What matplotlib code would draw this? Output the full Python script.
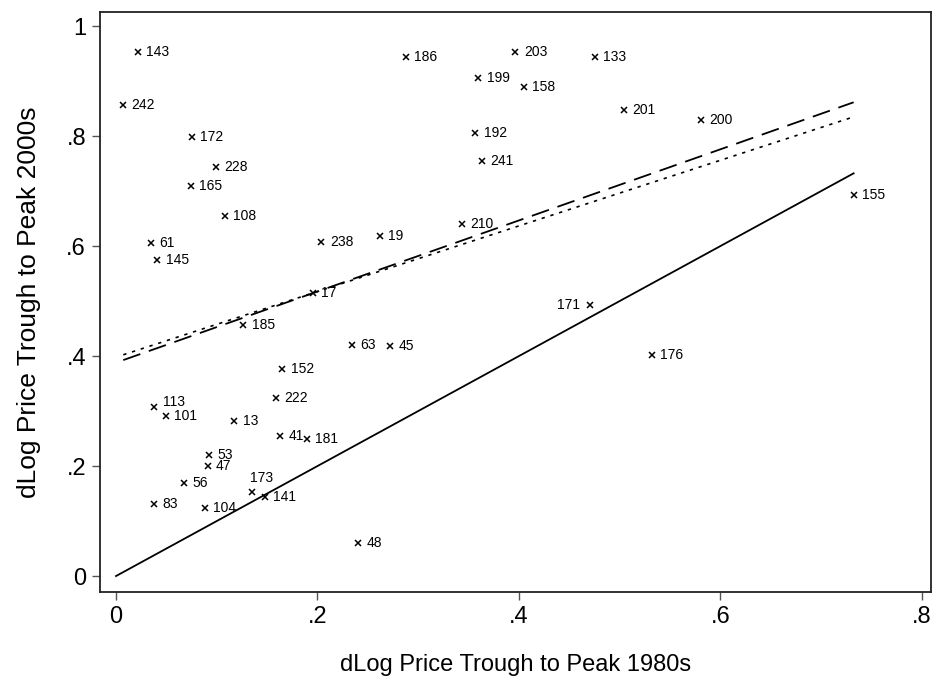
import numpy as np
import matplotlib
matplotlib.use("Agg")
import matplotlib.pyplot as plt

plt.rcParams['font.family'] = ['Liberation Sans', 'DejaVu Sans']

# city ids and price changes (trough to peak)
ids = ["143", "242", "172", "228", "165", "108", "61", "145", "238", "17",
       "19", "186", "203", "133", "199", "158", "201", "200", "192", "241",
       "210", "155", "185", "63", "152", "222", "113", "101", "13", "41",
       "181", "53", "47", "56", "173", "141", "83", "104", "48", "171",
       "45", "176"]
dlog_1980s = [0.0215, 0.0072, 0.0752, 0.0993, 0.0742, 0.1082, 0.0348, 0.0410, 0.2039, 0.1953,
              0.2622, 0.2880, 0.3965, 0.4750, 0.3595, 0.4045, 0.5038, 0.5806, 0.3568, 0.3632,
              0.3433, 0.7322, 0.1264, 0.2341, 0.1651, 0.1586, 0.0380, 0.0497, 0.1175, 0.1629,
              0.1894, 0.0927, 0.0911, 0.0678, 0.1348, 0.1480, 0.0380, 0.0884, 0.2406, 0.4707,
              0.2721, 0.5320]
dlog_2000s = [0.953, 0.856, 0.799, 0.743, 0.710, 0.655, 0.605, 0.575, 0.607, 0.514,
              0.618, 0.944, 0.952, 0.944, 0.906, 0.890, 0.847, 0.829, 0.806, 0.7545,
              0.640, 0.6927, 0.4564, 0.420, 0.3758, 0.323, 0.3067, 0.291, 0.2824, 0.255,
              0.249, 0.2195, 0.2005, 0.1685, 0.1533, 0.1431, 0.1309, 0.123, 0.0605, 0.4927,
              0.418, 0.4018]

# fitted lines (intercept, slope)
fit_dashed = (0.388, 0.6465)
fit_dotted = (0.398, 0.5966)

# label placement exceptions
label_left = ["171"]
label_up = {"113": 5, "173": 14}

x = np.array(dlog_1980s)
y = np.array(dlog_2000s)

fig = plt.figure(figsize=(9.32, 6.77), dpi=100)
ax = fig.add_axes([100 / 932, 85 / 677, 831 / 932, 580 / 677])

xs = np.array([x.min(), x.max()])
ax.plot([0, x.max()], [0, x.max()], color="black", lw=1.3, zorder=2)
ax.plot(xs, fit_dashed[0] + fit_dashed[1] * xs, color="black", lw=1.3,
        dashes=(10, 5), zorder=2)
ax.plot(xs, fit_dotted[0] + fit_dotted[1] * xs, color="black", lw=1.2,
        dashes=(2, 3.5), zorder=2)

ax.plot(x, y, linestyle="none", marker="x", markersize=4.2, mew=1.1,
        color="black", zorder=3)

for name, xi, yi in zip(ids, x, y):
    if name in label_left:
        ax.annotate(name, (xi, yi), xytext=(-7, 0), textcoords="offset points",
                    ha="right", va="center", fontsize=10)
    elif name == "173":
        ax.annotate(name, (xi, yi), xytext=(-1, 5), textcoords="offset points",
                    ha="left", va="bottom", fontsize=10)
    else:
        dy = label_up.get(name, 0)
        ax.annotate(name, (xi, yi), xytext=(6, dy * 0.75), textcoords="offset points",
                    ha="left", va="center", fontsize=10)

ax.set_xlim(-0.0159, 0.809)
ax.set_ylim(-0.029, 1.0255)
ax.set_xticks([0, 0.2, 0.4, 0.6, 0.8])
ax.set_xticklabels(["0", ".2", ".4", ".6", ".8"])
ax.set_yticks([0, 0.2, 0.4, 0.6, 0.8, 1])
ax.set_yticklabels(["0", ".2", ".4", ".6", ".8", "1"])
ax.tick_params(axis="both", direction="out", length=6, width=1, color="#555555",
               labelsize=17, pad=4)

for s in ax.spines.values():
    s.set_linewidth(1.3)
    s.set_color("#222222")

ax.set_xlabel("dLog Price Trough to Peak 1980s", fontsize=17, labelpad=19)
ax.set_ylabel("dLog Price Trough to Peak 2000s", fontsize=19, labelpad=18)

fig.savefig("out.png", dpi=100)
